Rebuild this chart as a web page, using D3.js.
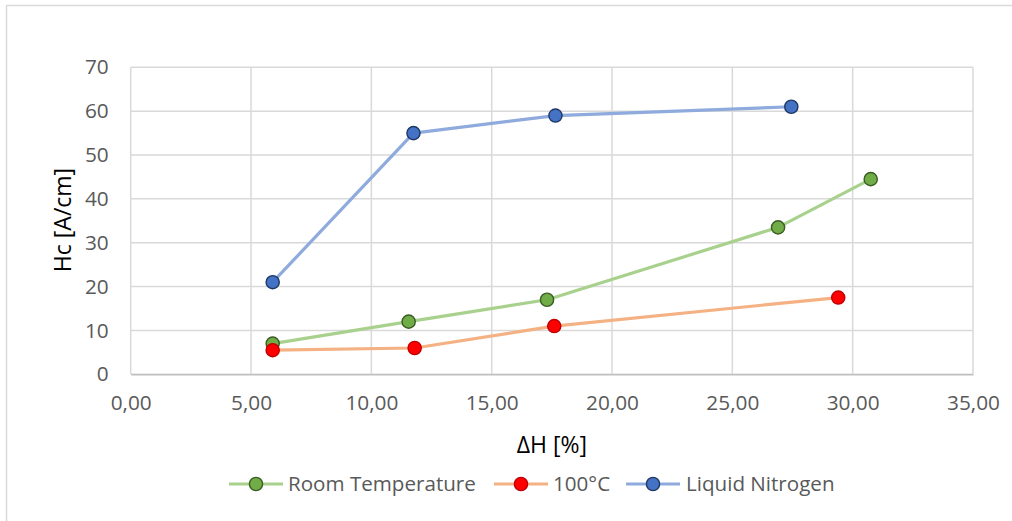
<!DOCTYPE html>
<html>
<head>
<meta charset="utf-8">
<script src="https://cdn.jsdelivr.net/npm/d3@7"></script>
<style>
  html, body { margin: 0; padding: 0; background: #fff; }
  svg { display: block; font-family: "Open Sans", "Noto Sans", sans-serif; }
</style>
</head>
<body>
<svg id="chart" width="1012" height="521"></svg>
<script>
// Coercivity Hc versus ΔH for three treatment conditions
const seriesNames = ["Room Temperature", "100°C", "Liquid Nitrogen"];

const roomTempX = [5.9, 11.55, 17.3, 26.9, 30.75];
const roomTempY = [7, 12, 17, 33.5, 44.5];

const hundredX = [5.9, 11.8, 17.6, 29.4];
const hundredY = [5.5, 6, 11, 17.5];

const nitrogenX = [5.9, 11.75, 17.65, 27.45];
const nitrogenY = [21, 55, 59, 61];

const xTicks = [0, 5, 10, 15, 20, 25, 30, 35];
const yTicks = [0, 10, 20, 30, 40, 50, 60, 70];

const xTitle = "ΔH [%]";
const yTitle = "Hc [A/cm]";

const styles = [
  { line: "#a9d18e", fill: "#70ad47", stroke: "#3b5c25" },
  { line: "#f4b183", fill: "#ff0000", stroke: "#c00000" },
  { line: "#8faadc", fill: "#4472c4", stroke: "#1f3864" }
];

const series = [
  { name: seriesNames[0], pts: roomTempX.map((x, i) => [x, roomTempY[i]]) },
  { name: seriesNames[1], pts: hundredX.map((x, i) => [x, hundredY[i]]) },
  { name: seriesNames[2], pts: nitrogenX.map((x, i) => [x, nitrogenY[i]]) }
];

const svg = d3.select("#chart");

// chart frame (only top and left edges fall inside the canvas)
svg.append("rect")
  .attr("x", 6.5).attr("y", 5.5)
  .attr("width", 1020).attr("height", 530)
  .attr("fill", "#fff")
  .attr("stroke", "#d9d9d9").attr("stroke-width", 1.5);

const plot = { left: 130.7, right: 973, top: 67.3, bottom: 374.3 };

const x = d3.scaleLinear().domain([0, 35]).range([plot.left, plot.right]);
const y = d3.scaleLinear().domain([0, 70]).range([plot.bottom, plot.top]);

const fmt = d => d.toFixed(2).replace(".", ",");

// gridlines
const grid = svg.append("g");
grid.selectAll("line.v").data(xTicks).join("line")
  .attr("x1", d => x(d)).attr("x2", d => x(d))
  .attr("y1", plot.top).attr("y2", plot.bottom)
  .attr("stroke", "#d9d9d9").attr("stroke-width", 1.5);
grid.selectAll("line.h").data(yTicks).join("line")
  .attr("x1", plot.left).attr("x2", plot.right)
  .attr("y1", d => y(d)).attr("y2", d => y(d))
  .attr("stroke", "#d9d9d9").attr("stroke-width", 1.5);

// axes
const xAxis = svg.append("g")
  .attr("transform", `translate(0,${plot.bottom})`)
  .call(d3.axisBottom(x).tickValues(xTicks).tickFormat(fmt).tickSize(0).tickPadding(21));
xAxis.select(".domain").attr("stroke", "#bfbfbf").attr("stroke-width", 1.5);

const yAxis = svg.append("g")
  .attr("transform", `translate(${plot.left},0)`)
  .call(d3.axisLeft(y).tickValues(yTicks).tickSize(0).tickPadding(22));
yAxis.select(".domain").remove();

svg.selectAll(".tick text")
  .attr("fill", "#595959")
  .style("font-size", "20.8px")
  .style("font-family", "'Open Sans', sans-serif");

// axis titles
svg.append("text")
  .attr("x", (plot.left + plot.right) / 2).attr("y", 453)
  .attr("text-anchor", "middle")
  .attr("fill", "#000")
  .style("font-size", "23px")
  .text(xTitle);

svg.append("text")
  .attr("transform", "translate(71,220) rotate(-90)")
  .attr("text-anchor", "middle")
  .attr("fill", "#000")
  .style("font-size", "23px")
  .text(yTitle);

// series lines and markers
const lineGen = d3.line().x(d => x(d[0])).y(d => y(d[1]));

series.forEach((s, i) => {
  svg.append("path")
    .datum(s.pts)
    .attr("d", lineGen)
    .attr("fill", "none")
    .attr("stroke", styles[i].line)
    .attr("stroke-width", 3.2)
    .attr("stroke-linejoin", "round");
});
series.forEach((s, i) => {
  svg.append("g").selectAll("circle").data(s.pts).join("circle")
    .attr("cx", d => x(d[0])).attr("cy", d => y(d[1]))
    .attr("r", 6.6)
    .attr("fill", styles[i].fill)
    .attr("stroke", styles[i].stroke)
    .attr("stroke-width", 1.4);
});

// legend
const legendItems = [
  { lineStart: 229, textX: 288 },
  { lineStart: 494, textX: 553 },
  { lineStart: 626, textX: 686 }
];
const legendY = 484;
const legend = svg.append("g");
series.forEach((s, i) => {
  const it = legendItems[i];
  legend.append("line")
    .attr("x1", it.lineStart).attr("x2", it.lineStart + 54)
    .attr("y1", legendY).attr("y2", legendY)
    .attr("stroke", styles[i].line).attr("stroke-width", 3.2);
  legend.append("circle")
    .attr("cx", it.lineStart + 27).attr("cy", legendY)
    .attr("r", 6.6)
    .attr("fill", styles[i].fill)
    .attr("stroke", styles[i].stroke)
    .attr("stroke-width", 1.4);
  legend.append("text")
    .attr("x", it.textX).attr("y", legendY)
    .attr("dy", "0.35em")
    .attr("fill", "#595959")
    .style("font-size", "20.6px")
    .text(s.name);
});
</script>
</body>
</html>
